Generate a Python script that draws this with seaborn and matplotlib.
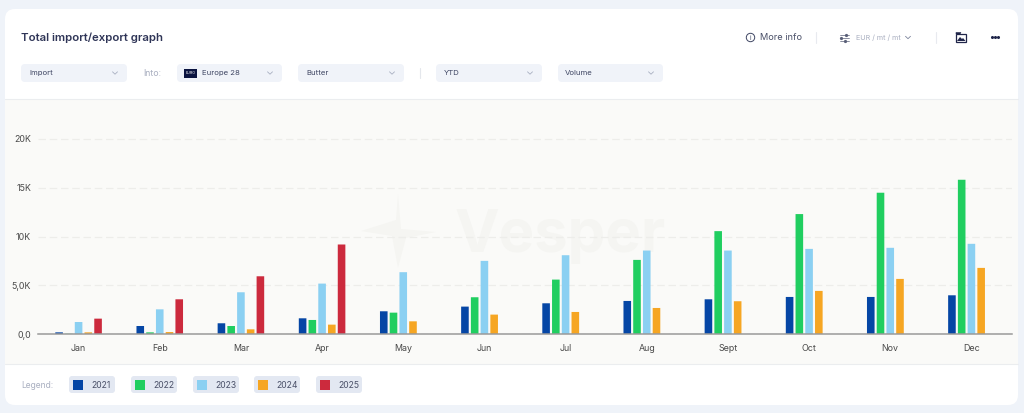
"""Total import/export graph, dashboard card."""
import numpy as np
import pandas as pd
import matplotlib.pyplot as plt
import seaborn as sns
from matplotlib.patches import Circle, FancyBboxPatch, Polygon, Rectangle

months = ["Jan", "Feb", "Mar", "Apr", "May", "Jun", "Jul", "Aug", "Sept", "Oct", "Nov", "Dec"]
years = ["2021", "2022", "2023", "2024", "2025"]
v2021 = [170, 820, 1100, 1610, 2330, 2810, 3150, 3390, 3560, 3800, 3800, 3970]
v2022 = [20, 170, 820, 1440, 2190, 3770, 5580, 7600, 10550, 12300, 14490, 15820]
v2023 = [1230, 2530, 4280, 5170, 6340, 7500, 8080, 8560, 8560, 8730, 8840, 9250]
v2024 = [170, 200, 480, 960, 1300, 1990, 2260, 2670, 3360, 4420, 5650, 6780]
v2025 = [1575, 3560, 5920, 9180, np.nan, np.nan, np.nan, np.nan, np.nan, np.nan, np.nan, np.nan]
colors = ["#0546A5", "#20CE60", "#8BD0F2", "#F6A623", "#CC2A3D"]
y_ticks = [0, 5000, 10000, 15000, 20000]
y_labels = ["0,0", "5,0K", "10K", "15K", "20K"]

df = pd.DataFrame({"month": months, "2021": v2021, "2022": v2022, "2023": v2023,
                   "2024": v2024, "2025": v2025})
df = df.melt(id_vars="month", var_name="year", value_name="volume")

sns.set_theme(style="white")
plt.rcParams["font.family"] = ["Inter", "DejaVu Sans"]

W, H = 1024, 413
fig = plt.figure(figsize=(W / 100, H / 100), dpi=100, facecolor="#EFF3F9")

# card chrome, drawn in pixel coordinates
ui = fig.add_axes([0, 0, 1, 1], zorder=0)
ui.set_xlim(0, W)
ui.set_ylim(H, 0)
ui.axis("off")


def pill(x0, x1, y0, y1, color="#F0F3F9", r=4):
    ui.add_patch(FancyBboxPatch((x0, y0), x1 - x0, y1 - y0, fc=color, ec="none",
                                boxstyle=f"round,pad=0,rounding_size={r}"))


def chevron(x, y, color="#A9B0C2"):
    ui.plot([x - 2.5, x, x + 2.5], [y - 1.2, y + 1.2, y - 1.2], color=color, lw=0.6)


def label(x, y, s, size=5.6, color="#3F4663", **kw):
    ui.text(x, y, s, fontsize=size, color=color, va="center", **kw)


pill(5, 1018, 9, 405, "white", 10)
ui.add_patch(Rectangle((5, 99), 1013, 265, fc="#FAFAF8", ec="none"))
ui.plot([5, 1018], [99, 99], color="#EBEDEF", lw=0.8)
ui.plot([5, 1018], [364, 364], color="#EBEDEF", lw=0.8)

label(21, 38, "Total import/export graph", size=8.2, color="#2F3557", fontweight="semibold")

for x0, x1, name, tx in [(21, 127, "Import", 29), (177, 282, "Europe 28", 202),
                         (298, 404, "Butter", 306), (436, 542, "YTD", 444),
                         (558, 663, "Volume", 565)]:
    pill(x0, x1, 64, 82)
    label(tx, 73, name)
    chevron(x1 - 12, 73)
label(143, 73, "Into:", size=6.3, color="#A9AFC0")
ui.add_patch(Rectangle((184, 69), 13, 9, fc="#0B1440", ec="none"))
ui.text(190.5, 73.5, "EURO", fontsize=2.6, color="white", ha="center", va="center")
ui.plot([419.5, 419.5], [68, 78], color="#E4E7EC", lw=0.8)

# top right tools
ui.add_patch(Circle((750.5, 37.5), 4.2, fc="none", ec="#3F4663", lw=0.7))
ui.text(750.5, 37.7, "i", fontsize=4.6, color="#3F4663", ha="center", va="center")
label(760, 37, "More info", size=6.6, color="#4A5068")
ui.plot([815.5, 815.5], [32, 43], color="#E8EAEF", lw=0.8)
for yy, xk in [(34.5, 846), (37.5, 841), (40.5, 845)]:
    ui.plot([840, 849], [yy, yy], color="#5A6078", lw=0.5)
    ui.plot([xk], [yy], "o", ms=1.3, color="#5A6078")
label(856, 38, "EUR / mt / mt", size=5.2, color="#A9AFC0")
chevron(908, 37.5, "#7D859C")
ui.plot([935.5, 935.5], [32, 43], color="#E8EAEF", lw=0.8)
ui.add_patch(Rectangle((956, 34), 10, 7.5, fc="none", ec="#20264A", lw=0.9))
ui.add_patch(Polygon([[956, 34], [960, 34], [961, 32.5], [956, 32.5]], fc="#20264A", ec="#20264A", lw=0.4))
ui.add_patch(Polygon([[957, 41], [960, 37], [962, 39], [963, 38], [965.5, 41]], fc="#20264A", ec="none"))
ui.plot([991.5, 994.5, 997.5], [37, 37, 37], "o", ms=1.2, color="#20264A")

# watermark
ui.text(455, 252, "Vesper", fontsize=43, color="#F5F5F2", fontweight="bold", va="baseline")
ui.add_patch(Polygon([[398, 194], [396, 220], [361, 231], [392, 236], [398, 268],
                      [406, 238], [436, 232], [401, 229]], fc="#F5F5F2", ec="none"))

# legend
label(21, 385, "Legend:", size=6.1, color="#A9AFC0")
for x0, year, c in zip([69, 131, 193, 254, 316], years, colors):
    pill(x0, x0 + 46, 376, 393, "#E3E8F2", 3)
    ui.add_patch(Rectangle((x0 + 4, 380), 9.5, 9.5, fc=c, ec="none"))
    label(x0 + 22, 385, year, size=6.2, color="#4A5068")

# chart
px_per_unit = 48.75 / 5000
y_max = 22500
ax_left, ax_right, ax_bottom = 38, 1012, 334
ax_top = ax_bottom - y_max * px_per_unit
ax = fig.add_axes([ax_left / W, 1 - ax_bottom / H, (ax_right - ax_left) / W, (ax_bottom - ax_top) / H],
                  zorder=1)
ax.patch.set_alpha(0)

sns.barplot(data=df, x="month", y="volume", hue="year", hue_order=years, palette=colors,
            width=0.6, gap=0.22, saturation=1, legend=False, ax=ax, zorder=3)
ax.set_xlim(-0.5, len(months) - 0.5)
ax.set_ylim(0, y_max)

# rounded bar corners
x_px = (ax_right - ax_left) / len(months)
for bar in list(ax.patches):
    h = bar.get_height()
    if not np.isfinite(h) or h <= 0:
        continue
    x0, w = bar.get_x(), bar.get_width()
    r = min(1.3 / x_px, h * px_per_unit / x_px / 2)
    ax.add_patch(FancyBboxPatch((x0, 0), w, h, fc=bar.get_facecolor(), ec="none", zorder=3,
                                boxstyle=f"round,pad=0,rounding_size={r}",
                                mutation_aspect=1 / (px_per_unit * x_px)))
    bar.set_visible(False)

ax.set_xlabel("")
ax.set_ylabel("")
ax.set_yticks(y_ticks, y_labels)
ax.yaxis.grid(True, color="#EDEDEA", ls=(0, (6, 3)), lw=0.9)
ax.set_axisbelow(True)
ax.tick_params(axis="both", length=0, labelsize=6.4, labelcolor="#4A4A4A")
ax.tick_params(axis="x", pad=7)
ax.tick_params(axis="y", pad=5)
sns.despine(ax=ax, left=True)
ax.spines["bottom"].set_color("#9A9A9A")
ax.spines["bottom"].set_linewidth(1.1)
ax.spines["bottom"].set_zorder(5)

fig.savefig("out.png", dpi=100, facecolor=fig.get_facecolor())
